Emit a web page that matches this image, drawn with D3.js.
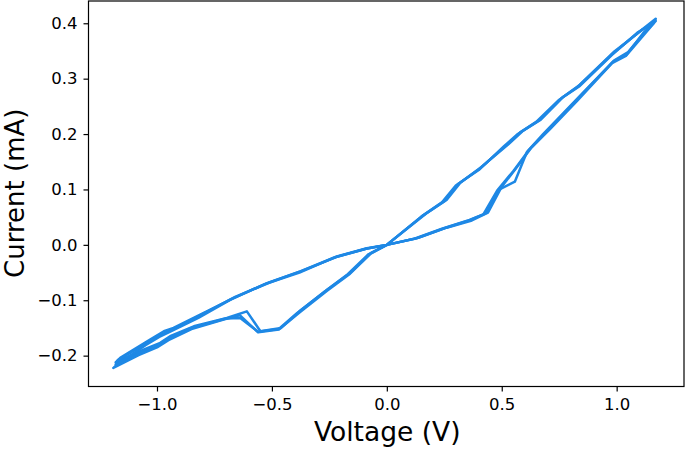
<!DOCTYPE html>
<html>
<head>
<meta charset="utf-8">
<script src="https://cdn.jsdelivr.net/npm/d3@7"></script>
<style>
  html, body { margin: 0; padding: 0; background: #fff; }
  svg { display: block; }
  text { font-family: "DejaVu Sans", sans-serif; fill: #000; }
</style>
</head>
<body>
<svg id="chart" width="685" height="449"></svg>
<script>
// ---- Data ----
const xTicks = [-1.0, -0.5, 0.0, 0.5, 1.0];
const yTicks = [-0.2, -0.1, 0.0, 0.1, 0.2, 0.3, 0.4];
const xLimits = [-1.298, 1.293];
const yLimits = [-0.2557, 0.4402];
const xLabel = "Voltage (V)";
const yLabel = "Current (mA)";

// Cycle 1
const voltage1 = [0.0, 0.13, 0.25, 0.35, 0.43, 0.49, 0.557, 0.61, 0.68, 0.81, 0.985, 1.043, 1.115, 1.152, 1.17,
  1.10, 0.985, 0.83, 0.76, 0.66, 0.58, 0.52, 0.405, 0.31, 0.25, 0.16, 0.0,
  -0.07, -0.16, -0.26, -0.38, -0.46, -0.55, -0.609, -0.696, -0.84, -0.943, -0.986, -1.059, -1.18,
  -1.16, -1.03, -0.97, -0.928, -0.812, -0.667, -0.522, -0.377, -0.218, -0.087, 0.0];
const current1 = [0.0, 0.012, 0.030, 0.043, 0.057, 0.100, 0.114, 0.168, 0.200, 0.256, 0.331, 0.343, 0.382, 0.397, 0.408,
  0.385, 0.346, 0.285, 0.265, 0.224, 0.203, 0.180, 0.138, 0.110, 0.079, 0.054, 0.0,
  -0.015, -0.051, -0.081, -0.120, -0.150, -0.156, -0.120, -0.132, -0.147, -0.165, -0.177, -0.189, -0.212,
  -0.204, -0.171, -0.156, -0.150, -0.126, -0.096, -0.069, -0.048, -0.021, -0.006, 0.0];

// Cycle 2
const voltage2 = [0.0, 0.12, 0.24, 0.36, 0.42, 0.48, 0.55, 0.62, 0.70, 0.82, 0.99, 1.05, 1.11, 1.16,
  1.09, 0.98, 0.84, 0.75, 0.65, 0.57, 0.51, 0.40, 0.30, 0.24, 0.15, 0.0,
  -0.08, -0.17, -0.27, -0.39, -0.47, -0.56, -0.638, -0.70, -0.85, -0.95, -0.99, -1.07, -1.18,
  -1.17, -1.04, -0.98, -0.93, -0.82, -0.66, -0.51, -0.37, -0.22, -0.09, 0.0];
const current2 = [0.0, 0.011, 0.029, 0.045, 0.055, 0.098, 0.133, 0.172, 0.206, 0.259, 0.333, 0.348, 0.378, 0.400,
  0.383, 0.343, 0.287, 0.262, 0.222, 0.200, 0.178, 0.135, 0.107, 0.077, 0.051, 0.0,
  -0.017, -0.053, -0.084, -0.123, -0.152, -0.157, -0.132, -0.133, -0.150, -0.169, -0.181, -0.194, -0.216,
  -0.208, -0.176, -0.162, -0.152, -0.129, -0.094, -0.068, -0.047, -0.022, -0.007, 0.0];

// Cycle 3
const voltage3 = [0.0, 0.14, 0.26, 0.37, 0.44, 0.50, 0.56, 0.63, 0.71, 0.83, 0.98, 1.04, 1.12, 1.17,
  1.11, 0.99, 0.84, 0.77, 0.67, 0.59, 0.53, 0.41, 0.32, 0.26, 0.17, 0.0,
  -0.07, -0.16, -0.26, -0.38, -0.47, -0.56, -0.64, -0.71, -0.85, -0.95, -1.00, -1.08, -1.19,
  -1.17, -1.05, -0.99, -0.94, -0.82, -0.68, -0.53, -0.38, -0.23, -0.09, 0.0];
const current3 = [0.0, 0.013, 0.031, 0.044, 0.058, 0.105, 0.137, 0.176, 0.209, 0.261, 0.328, 0.341, 0.380, 0.404,
  0.388, 0.349, 0.289, 0.268, 0.226, 0.205, 0.182, 0.140, 0.112, 0.081, 0.056, 0.0,
  -0.016, -0.052, -0.083, -0.122, -0.153, -0.158, -0.127, -0.135, -0.152, -0.172, -0.185, -0.199, -0.222,
  -0.215, -0.181, -0.166, -0.156, -0.132, -0.099, -0.071, -0.050, -0.023, -0.007, 0.0];

const cycles = [
  { v: voltage1, i: current1 },
  { v: voltage2, i: current2 },
  { v: voltage3, i: current3 }
];

// ---- Layout ----
const plot = { left: 88.5, right: 684, top: 1, bottom: 386.5 };
const lineColor = "#1e88e5";

const svg = d3.select("#chart");

const x = d3.scaleLinear().domain(xLimits).range([plot.left, plot.right]);
const y = d3.scaleLinear().domain(yLimits).range([plot.bottom, plot.top]);

const fmt = d => d3.format(".1f")(d).replace("-", "\u2212");

svg.append("clipPath").attr("id", "clip").append("rect")
  .attr("x", plot.left).attr("y", plot.top)
  .attr("width", plot.right - plot.left).attr("height", plot.bottom - plot.top);

const line = d3.line().x(d => x(d[0])).y(d => y(d[1])).curve(d3.curveLinear);

const g = svg.append("g").attr("clip-path", "url(#clip)");
cycles.forEach(c => {
  const pts = c.v.map((v, k) => [v, c.i[k]]);
  g.append("path")
    .datum(pts)
    .attr("d", line)
    .attr("fill", "none")
    .attr("stroke", lineColor)
    .attr("stroke-width", 2.5)
    .attr("stroke-linejoin", "round")
    .attr("stroke-linecap", "square");
});

// axes
const xAxis = d3.axisBottom(x).tickValues(xTicks).tickFormat(fmt).tickSize(5).tickPadding(7);
const yAxis = d3.axisLeft(y).tickValues(yTicks).tickFormat(fmt).tickSize(5).tickPadding(6);

const gx = svg.append("g").attr("transform", `translate(0,${plot.bottom})`).call(xAxis);
const gy = svg.append("g").attr("transform", `translate(${plot.left},0)`).call(yAxis);
[gx, gy].forEach(ax => {
  ax.select(".domain").remove();
  ax.selectAll(".tick line").attr("stroke", "#000").attr("stroke-width", 1.2);
  ax.selectAll(".tick text").attr("font-size", 16.5).attr("font-family", "DejaVu Sans").attr("fill", "#000");
});

// frame
svg.append("rect")
  .attr("x", plot.left).attr("y", plot.top)
  .attr("width", plot.right - plot.left).attr("height", plot.bottom - plot.top)
  .attr("fill", "none").attr("stroke", "#000").attr("stroke-width", 1.2);

// labels
svg.append("text")
  .attr("x", (plot.left + plot.right) / 2 + 1)
  .attr("y", 441)
  .attr("text-anchor", "middle")
  .attr("font-size", 26.5)
  .text(xLabel);

svg.append("text")
  .attr("transform", `translate(24,${(plot.top + plot.bottom) / 2 - 0.5}) rotate(-90)`)
  .attr("text-anchor", "middle")
  .attr("font-size", 26)
  .text(yLabel);
</script>
</body>
</html>
